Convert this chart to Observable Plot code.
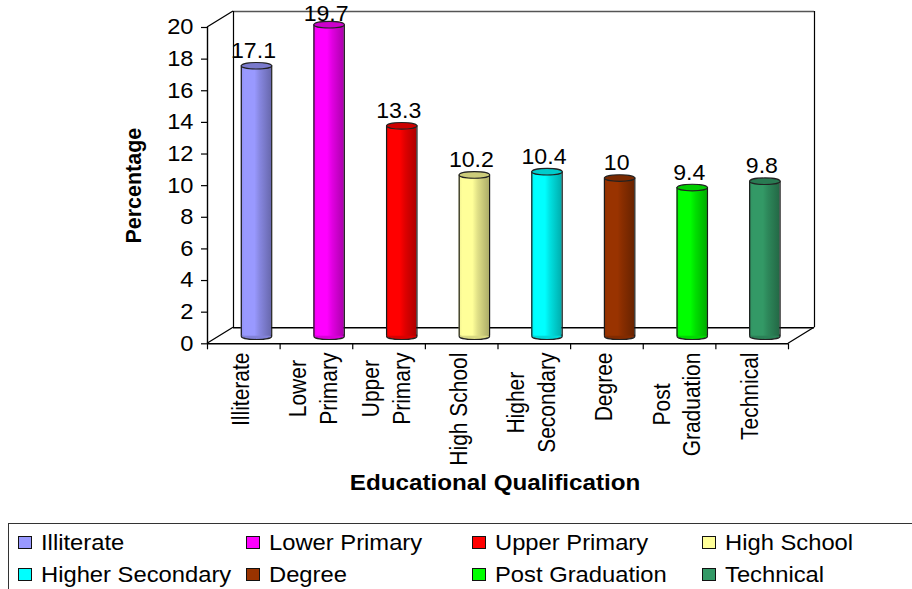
<!DOCTYPE html>
<html>
<head>
<meta charset="utf-8">
<script src="https://cdn.jsdelivr.net/npm/d3@7"></script>
<script src="https://cdn.jsdelivr.net/npm/@observablehq/plot@0.6"></script>
<style>
  html, body { margin: 0; padding: 0; background: #fff; width: 912px; height: 589px; overflow: hidden; }
  svg { display: block; }
  #legend { position: absolute; left: 8px; top: 523px; width: 920px; height: 80px; box-sizing: border-box;
            border-top: 1.6px solid #333; border-left: 1.6px solid #333; font: 22px "Liberation Sans", Arial, sans-serif; color: #000; }
  .item { position: absolute; height: 20px; line-height: 20px; white-space: nowrap; }
  .swatch { position: absolute; left: 0; top: 3px; width: 14px; height: 13px; box-sizing: border-box; border: 1.3px solid #111; }
  .name { position: absolute; left: 23px; top: 0; transform: scaleX(1.08); transform-origin: left center; }
</style>
</head>
<body>
<div id="chart"></div>
<div id="legend"></div>
<script>
const categories = ["Illiterate", "Lower Primary", "Upper Primary", "High School", "Higher Secondary", "Degree", "Post Graduation", "Technical"];
const axisLabels = ["Illiterate", "Lower\nPrimary", "Upper\nPrimary", "High School", "Higher\nSecondary", "Degree", "Post\nGraduation", "Technical"];
const values = [17.1, 19.7, 13.3, 10.2, 10.4, 10, 9.4, 9.8];
const valueLabels = ["17.1", "19.7", "13.3", "10.2", "10.4", "10", "9.4", "9.8"];
const colors = ["#9999ff", "#ff00ff", "#ff0000", "#ffff99", "#00ffff", "#993300", "#00ff00", "#339966"];
const yTicks = [0, 2, 4, 6, 8, 10, 12, 14, 16, 18, 20];

const FONT = '"Liberation Sans", Arial, sans-serif';
const W = 912, H = 520, mL = 207, mR = 124, mT = 27, y0px = 343.3;
const band = (W - mL - mR) / categories.length;
const depthX = 26, depthY = -16;     // wall offset
const cylX = 12.7, cylY = -7.6;      // cylinder offset
const rx = 15.2, ry = 3.3;
const rows = categories.map((c, i) => ({c, i, v: values[i], color: colors[i], label: axisLabels[i], text: valueLabels[i]}));

function shade(c, k) { const r = d3.rgb(c); return d3.rgb(r.r * k, r.g * k, r.b * k).formatHex(); }

const ellipse = {
  draw(ctx) {
    const kx = rx * 0.5523, ky = ry * 0.5523;
    ctx.moveTo(-rx, 0);
    ctx.bezierCurveTo(-rx, -ky, -kx, -ry, 0, -ry);
    ctx.bezierCurveTo(kx, -ry, rx, -ky, rx, 0);
    ctx.bezierCurveTo(rx, ky, kx, ry, 0, ry);
    ctx.bezierCurveTo(-kx, ry, -rx, ky, -rx, 0);
    ctx.closePath();
  }
};

const gradients = () => {
  const defs = d3.create("svg:defs");
  rows.forEach(d => {
    const g = defs.append("linearGradient").attr("id", "cyl" + d.i).attr("x1", 0).attr("x2", 1).attr("y1", 0).attr("y2", 0);
    [[0, 0.94], [0.12, 1], [0.45, 1], [0.62, 0.88], [1, 0.68]].forEach(([o, k]) =>
      g.append("stop").attr("offset", o).attr("stop-color", shade(d.color, k)));
  });
  return defs.node();
};

const diagonals = (index, scales, values, dims) => {
  const y = scales.y, xL = dims.marginLeft, xR = dims.width - dims.marginRight;
  const p = d3.path();
  p.moveTo(xL, y(0)); p.lineTo(xL + depthX, y(0) + depthY);
  p.moveTo(xL, y(20)); p.lineTo(xL + depthX, y(20) + depthY);
  p.moveTo(xR, y(0)); p.lineTo(xR + depthX, y(0) + depthY);
  return d3.create("svg:path").attr("d", p.toString()).attr("fill", "none").attr("stroke", "#000").attr("stroke-width", 1.3).node();
};

const measure = document.createElement("canvas").getContext("2d");
measure.font = "21px " + FONT;
const labelWidth = s => d3.max(s.split("\n"), l => measure.measureText(l).width);

const chart = Plot.plot({
  width: W, height: H,
  marginLeft: mL, marginRight: mR, marginTop: mT, marginBottom: H - y0px, 
  style: {fontFamily: FONT, background: "#fff", color: "#000", overflow: "visible"},
  x: {domain: categories, padding: 0, round: false, axis: null},
  y: {domain: [0, 20], ticks: yTicks, label: null},
  color: {type: "identity"},
  marks: [
    gradients,
    // back walls
    Plot.ruleY([20], {dx: depthX, dy: depthY, stroke: "#555", strokeWidth: 1.4}),
    Plot.ruleY([0], {dx: depthX, dy: depthY, stroke: "#000", strokeWidth: 1.4}),
    Plot.ruleX(categories.slice(0, 1), {x: d => d, y1: 0, y2: 20, dx: depthX - band / 2, dy: depthY, stroke: "#000", strokeWidth: 1.2}),
    Plot.ruleX(categories.slice(-1), {x: d => d, y1: 0, y2: 20, dx: depthX + band / 2, dy: depthY, stroke: "#000", strokeWidth: 1.2}),
    diagonals,
    // front axes
    Plot.ruleY([0], {stroke: "#000", strokeWidth: 1.4}),
    Plot.ruleX(categories.slice(0, 1), {x: d => d, y1: 0, y2: 20, dx: -band / 2, stroke: "#000", strokeWidth: 1.4}),
    Plot.ruleX(categories, {x: d => d, y1: 0, y2: -0.38, dx: -band / 2, stroke: "#000", strokeWidth: 1.2}),
    Plot.ruleX(categories.slice(-1), {x: d => d, y1: 0, y2: -0.38, dx: band / 2, stroke: "#000", strokeWidth: 1.2}),
    Plot.axisY(yTicks, {tickSize: 6, tickPadding: 8, fontSize: 21.5, label: null, stroke: "#000", strokeWidth: 1.2}),
    // cylinders
    Plot.dot(rows, {x: "c", y: () => 0, symbol: ellipse, r: 10, dx: cylX, dy: cylY, fill: d => shade(d.color, 0.85), stroke: "#222", strokeWidth: 1.2}),
    Plot.barY(rows, {x: "c", y: "v", insetLeft: band / 2 - rx, insetRight: band / 2 - rx, dx: cylX, dy: cylY, fill: d => `url(#cyl${d.i})`}),
    Plot.ruleX(rows, {x: "c", y1: () => 0, y2: "v", dx: cylX - rx, dy: cylY, stroke: "#1a1a1a", strokeWidth: 1.2}),
    Plot.ruleX(rows, {x: "c", y1: () => 0, y2: "v", dx: cylX + rx, dy: cylY, stroke: "#1a1a1a", strokeWidth: 1.2}),
    Plot.dot(rows, {x: "c", y: "v", symbol: ellipse, r: 10, dx: cylX, dy: cylY, fill: d => shade(d.color, 0.8), stroke: "#222", strokeWidth: 1.1}),
    // value labels (the tallest one sits slightly lower so it stays inside the page)
    Plot.text(rows.filter(d => d.v < 19), {x: "c", y: "v", text: "text", dx: cylX - 3, dy: -22.5, fontSize: 22, fill: "#000"}),
    Plot.text(rows.filter(d => d.v >= 19), {x: "c", y: "v", text: "text", dx: cylX - 3, dy: -18.5, fontSize: 22, fill: "#000"}),
    // category labels
    ...rows.map(d => Plot.text([d], {
      x: "c", y: () => 0, text: "label", rotate: -90, textAnchor: "middle", lineHeight: 1.27,
      dx: -4.5, dy: 8.7 + labelWidth(d.label) / 2, fontSize: 21, fill: "#000"
    })),
    // axis titles
    Plot.text(["Percentage"], {frameAnchor: "left", textAnchor: "middle", rotate: -90, dx: -73, fontSize: 21.5, fontWeight: "bold", fill: "#000"}),
    Plot.text(["Educational Qualification"], {frameAnchor: "bottom", dx: -3, dy: 146, fontSize: 22, fontWeight: "bold", fill: "#000"})
  ]
});
document.getElementById("chart").appendChild(chart);

// The reference is horizontally stretched: widen the glyphs of upright text, thicken the rotated ones.
chart.querySelectorAll("text").forEach(t => {
  const tr = t.getAttribute("transform") || "";
  if (tr.includes("rotate")) {
    if (t.textContent !== "Percentage") t.setAttribute("transform", tr + " scale(1,1.15)");
    return;
  }
  if (!/\S/.test(t.textContent)) return;
  const isTick = (t.closest("g").getAttribute("aria-label") || "").includes("tick label");
  const k = t.textContent.startsWith("Educational") ? 1.1 : isTick ? 1.1 : 1.05;
  t.setAttribute("textLength", (t.getComputedTextLength() * k).toFixed(1));
  t.setAttribute("lengthAdjust", "spacingAndGlyphs");
});

const legend = d3.select("#legend");
const colX = [9, 237, 463, 693], rowY = [9, 41];
categories.forEach((c, i) => {
  const item = legend.append("div").attr("class", "item")
    .style("left", colX[i % 4] + "px").style("top", rowY[Math.floor(i / 4)] + "px");
  item.append("div").attr("class", "swatch").style("background", colors[i]);
  item.append("div").attr("class", "name").text(c);
});
</script>
</body>
</html>
